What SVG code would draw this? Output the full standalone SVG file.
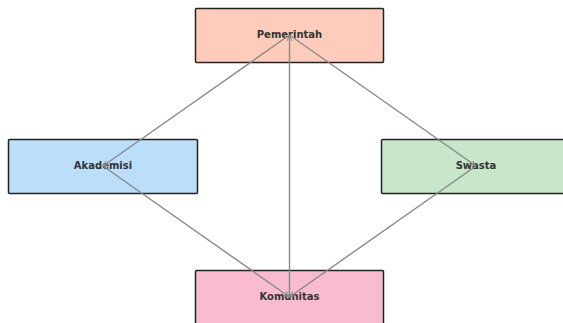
<svg xmlns="http://www.w3.org/2000/svg" width="563" height="323" viewBox="0 0 563 323">
<style>
.box{stroke:#222;stroke-width:1.5}
.lbl{font-family:"DejaVu Sans",sans-serif;font-weight:bold;font-size:10px;fill:#333;text-anchor:middle;dominant-baseline:central}
.edge{stroke:#888;stroke-width:1.4;fill:none;marker-end:url(#arr)}
</style>
<defs>
<marker id="arr" viewBox="0 0 10 10" refX="10" refY="5" markerWidth="6" markerHeight="6" orient="auto" markerUnits="userSpaceOnUse">
<path d="M0,1 L10,5 L0,9" fill="none" stroke="#888" stroke-width="1.6"/>
</marker>
</defs>
<rect width="563" height="323" fill="#fff"/>
<g id="pemerintah"><rect class="box" x="195.5" y="8.5" width="188" height="54" rx="1" fill="#FFCCBC"/><text class="lbl" x="289.5" y="34">Pemerintah</text></g>
<g id="akademisi"><rect class="box" x="8.5" y="139.5" width="189" height="54" rx="1" fill="#BBDEFB"/><text class="lbl" x="103" y="165">Akademisi</text></g>
<g id="swasta"><rect class="box" x="381.5" y="139.5" width="189" height="54" rx="1" fill="#C8E6C9"/><text class="lbl" x="476" y="165">Swasta</text></g>
<g id="komunitas"><rect class="box" x="195.5" y="270.5" width="188" height="60" rx="1" fill="#F8BBD0"/><text class="lbl" x="289.5" y="296">Komunitas</text></g>
<g id="connectors">
<line class="edge" x1="289.5" y1="35" x2="103" y2="166"/>
<line class="edge" x1="289.5" y1="35" x2="476" y2="166"/>
<line class="edge" x1="103" y1="166" x2="289.5" y2="297"/>
<line class="edge" x1="476" y1="166" x2="289.5" y2="297"/>
<line class="edge" x1="289.5" y1="297" x2="289.5" y2="35"/>
</g>
</svg>
